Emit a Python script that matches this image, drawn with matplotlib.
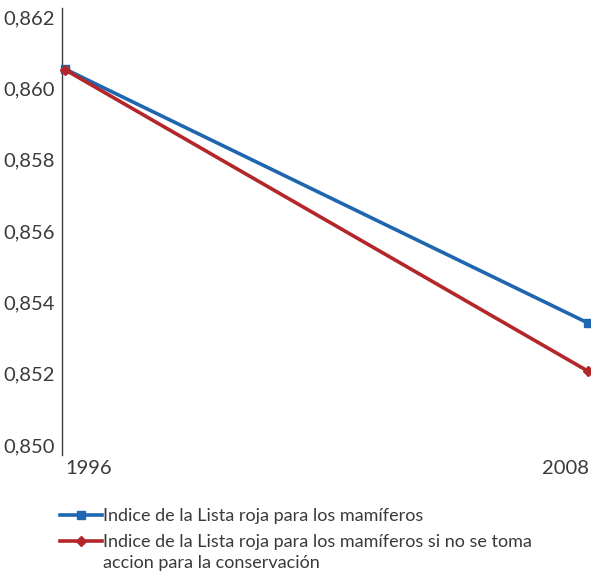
import matplotlib.pyplot as plt
from matplotlib.ticker import FuncFormatter

# Datos
anios = [1996, 2008]
indice_mamiferos = [0.86054, 0.85342]
indice_sin_accion = [0.86052, 0.85207]
etiquetas = ["Indice de la Lista roja para los mamíferos",
             "Indice de la Lista roja para los mamíferos si no se toma"]
etiqueta_extra = "accion para la conservación"

azul = '#1f66b0'
rojo = '#b3262a'
gris = '#3a3a3a'

plt.rcParams['font.family'] = ['Lato', 'DejaVu Sans']

fig = plt.figure(figsize=(5.91, 5.75), dpi=100)
ax = fig.add_axes([65/591, 1 - 455/575, (588 - 65)/591, (455 - 8)/575])

l1, = ax.plot(anios, indice_mamiferos, color=azul, lw=2.6, marker='s', ms=5.5,
              clip_on=False, zorder=3)
l2, = ax.plot(anios, indice_sin_accion, color=rojo, lw=2.6, marker='D', ms=5.5,
              clip_on=False, zorder=4)

ax.set_xlim(1996, 2008)
ax.set_ylim(0.84972, 0.86225)
ax.set_yticks([0.850, 0.852, 0.854, 0.856, 0.858, 0.860, 0.862])
ax.yaxis.set_major_formatter(FuncFormatter(lambda v, p: f"{v:.3f}".replace('.', ',')))
ax.set_xticks([])

for s in ['top', 'right', 'bottom']:
    ax.spines[s].set_visible(False)
ax.spines['left'].set_color(gris)
ax.spines['left'].set_linewidth(1.0)
ax.spines['left'].set_position(('outward', 2))
ax.tick_params(axis='y', length=0, pad=5, labelsize=14.5, labelcolor=gris)

fig.text(65/591, 1 - 468/575, "1996", ha='left', va='center', fontsize=14.5, color=gris)
fig.text(589/591, 1 - 468/575, "2008", ha='right', va='center', fontsize=14.5, color=gris)

fig.legend([l1, l2], etiquetas, loc='upper left', bbox_to_anchor=(60/591, 1 - 508/575),
           frameon=False, fontsize=13, labelcolor=gris, handlelength=2.3,
           handletextpad=0.1, labelspacing=0.55, borderaxespad=0, borderpad=0)
fig.text(103/591, 1 - 563/575, etiqueta_extra, ha='left', va='center', fontsize=13, color=gris)

plt.savefig("out.png", dpi=100)
